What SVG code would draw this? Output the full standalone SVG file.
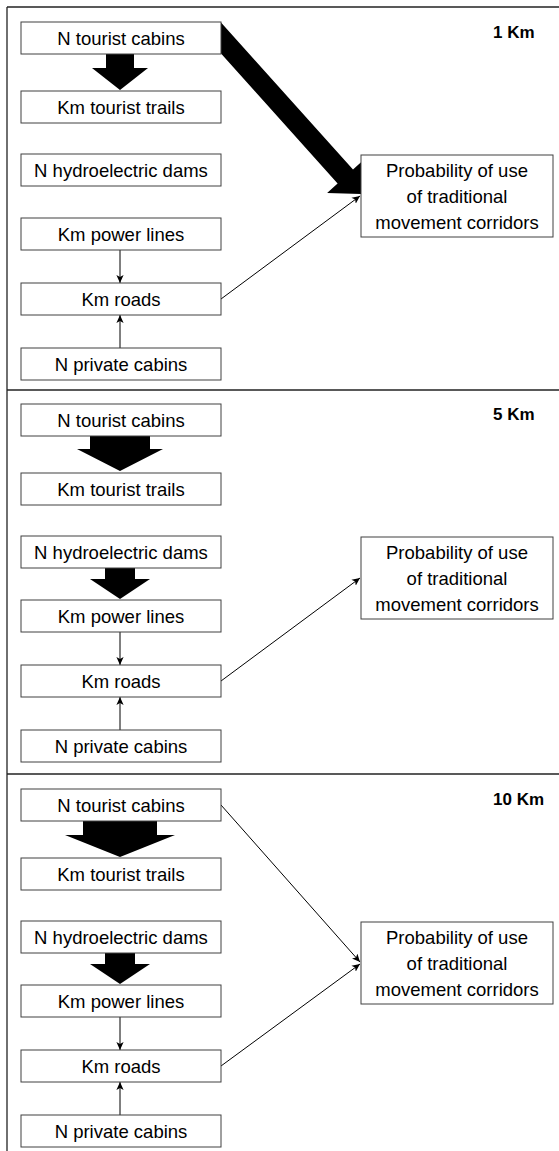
<svg xmlns="http://www.w3.org/2000/svg" width="559" height="1151" viewBox="0 0 559 1151">
<style>
.box{fill:#fff;stroke:#404040;stroke-width:1}
.t{font-family:"Liberation Sans",Arial,sans-serif;font-size:18.5px;fill:#000;text-anchor:middle}
.km{font-family:"Liberation Sans",Arial,sans-serif;font-size:17px;font-weight:bold;fill:#000}
.thin{stroke:#000;stroke-width:1;fill:none;marker-end:url(#ah)}
.big{fill:#000;stroke:none}
.frame{stroke:#222;stroke-width:1.3;fill:none}
</style>
<defs>
<marker id="ah" viewBox="0 0 10 10" refX="10" refY="5" markerWidth="8" markerHeight="8" markerUnits="userSpaceOnUse" orient="auto">
<path d="M0,0.5 L10,5 L0,9.5 L2.5,5 z" fill="#000"/>
</marker>
</defs>
<rect width="559" height="1151" fill="#fff"/>
<g id="frame">
<line class="frame" x1="7" y1="7" x2="559" y2="7"/>
<line class="frame" x1="7" y1="7" x2="7" y2="1151"/>
<line class="frame" x1="7" y1="390" x2="559" y2="390"/>
<line class="frame" x1="7" y1="774" x2="559" y2="774"/>
</g>

<g id="connectors">
<!-- Section 1 -->
<g transform="translate(0,0)">
<polygon class="big" points="106,54 134,54 134,68 148,68 120,90 92,68 106,68"/>
<polygon class="big" points="221,22.6 353,169.6 363.5,160.1 361,194 327.1,192.9 337.6,183.4 221,53.5"/>
<line class="thin" x1="120" y1="250" x2="120" y2="283"/>
<line class="thin" x1="120" y1="348" x2="120" y2="315"/>
<line class="thin" x1="221" y1="299" x2="360" y2="196"/>
</g>
<!-- Section 2 -->
<g transform="translate(0,382)">
<polygon class="big" points="90,54 150,54 150,67 163,67 120,89 77,67 90,67"/>
<polygon class="big" points="105,186 135,186 135,197 150,197 120,217 90,197 105,197"/>
<line class="thin" x1="120" y1="250" x2="120" y2="283"/>
<line class="thin" x1="120" y1="348" x2="120" y2="315"/>
<line class="thin" x1="221" y1="299" x2="360" y2="196"/>
</g>
<!-- Section 3 -->
<g transform="translate(0,767)">
<polygon class="big" points="83,54 157,54 157,68 175,68 120,90 65,68 83,68"/>
<polygon class="big" points="105,186 135,186 135,197 150,197 120,217 90,197 105,197"/>
<line class="thin" x1="221" y1="38" x2="360" y2="195"/>
<line class="thin" x1="120" y1="250" x2="120" y2="283"/>
<line class="thin" x1="120" y1="348" x2="120" y2="315"/>
<line class="thin" x1="221" y1="299" x2="360" y2="197"/>
</g>
</g>

<!-- Section 1 nodes -->
<g id="s1">
<g id="s1-tourist-cabins"><rect class="box" x="21" y="22" width="200" height="32"/><text class="t" x="121" y="44.5">N tourist cabins</text></g>
<g id="s1-tourist-trails"><rect class="box" x="21" y="91" width="200" height="32"/><text class="t" x="121" y="113.5">Km tourist trails</text></g>
<g id="s1-dams"><rect class="box" x="21" y="154" width="200" height="32"/><text class="t" x="121" y="176.5">N hydroelectric dams</text></g>
<g id="s1-power"><rect class="box" x="21" y="218" width="200" height="32"/><text class="t" x="121" y="240.5">Km power lines</text></g>
<g id="s1-roads"><rect class="box" x="21" y="283" width="200" height="32"/><text class="t" x="121" y="305.5">Km roads</text></g>
<g id="s1-private"><rect class="box" x="21" y="348" width="200" height="32"/><text class="t" x="121" y="370.5">N private cabins</text></g>
<g id="s1-prob"><rect class="box" x="361" y="155" width="192" height="82"/><text class="t" x="457" y="176.5">Probability of use</text><text class="t" x="457" y="202.5">of traditional</text><text class="t" x="457" y="228.5">movement corridors</text></g>
<g id="s1-label"><text class="km" x="493" y="38">1 Km</text></g>
</g>

<!-- Section 2 nodes -->
<g id="s2" transform="translate(0,382)">
<g id="s2-tourist-cabins"><rect class="box" x="21" y="22" width="200" height="32"/><text class="t" x="121" y="44.5">N tourist cabins</text></g>
<g id="s2-tourist-trails"><rect class="box" x="21" y="91" width="200" height="32"/><text class="t" x="121" y="113.5">Km tourist trails</text></g>
<g id="s2-dams"><rect class="box" x="21" y="154" width="200" height="32"/><text class="t" x="121" y="176.5">N hydroelectric dams</text></g>
<g id="s2-power"><rect class="box" x="21" y="218" width="200" height="32"/><text class="t" x="121" y="240.5">Km power lines</text></g>
<g id="s2-roads"><rect class="box" x="21" y="283" width="200" height="32"/><text class="t" x="121" y="305.5">Km roads</text></g>
<g id="s2-private"><rect class="box" x="21" y="348" width="200" height="32"/><text class="t" x="121" y="370.5">N private cabins</text></g>
<g id="s2-prob"><rect class="box" x="361" y="155" width="192" height="82"/><text class="t" x="457" y="176.5">Probability of use</text><text class="t" x="457" y="202.5">of traditional</text><text class="t" x="457" y="228.5">movement corridors</text></g>
<g id="s2-label"><text class="km" x="493" y="38">5 Km</text></g>
</g>

<!-- Section 3 nodes -->
<g id="s3" transform="translate(0,767)">
<g id="s3-tourist-cabins"><rect class="box" x="21" y="22" width="200" height="32"/><text class="t" x="121" y="44.5">N tourist cabins</text></g>
<g id="s3-tourist-trails"><rect class="box" x="21" y="91" width="200" height="32"/><text class="t" x="121" y="113.5">Km tourist trails</text></g>
<g id="s3-dams"><rect class="box" x="21" y="154" width="200" height="32"/><text class="t" x="121" y="176.5">N hydroelectric dams</text></g>
<g id="s3-power"><rect class="box" x="21" y="218" width="200" height="32"/><text class="t" x="121" y="240.5">Km power lines</text></g>
<g id="s3-roads"><rect class="box" x="21" y="283" width="200" height="32"/><text class="t" x="121" y="305.5">Km roads</text></g>
<g id="s3-private"><rect class="box" x="21" y="348" width="200" height="32"/><text class="t" x="121" y="370.5">N private cabins</text></g>
<g id="s3-prob"><rect class="box" x="361" y="155" width="192" height="82"/><text class="t" x="457" y="176.5">Probability of use</text><text class="t" x="457" y="202.5">of traditional</text><text class="t" x="457" y="228.5">movement corridors</text></g>
<g id="s3-label"><text class="km" x="493" y="38">10 Km</text></g>
</g>
</svg>
